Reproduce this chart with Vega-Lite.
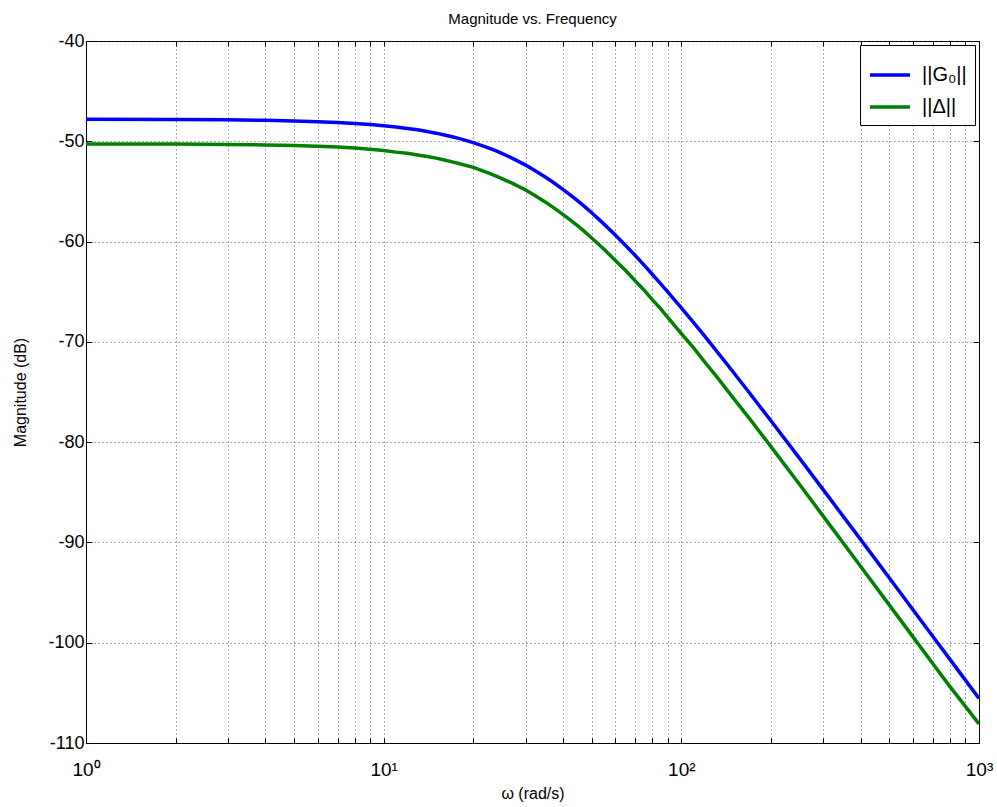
{
  "$schema": "https://vega.github.io/schema/vega-lite/v6.json",
  "autosize": {"type": "none"},
  "padding": {"left": 86, "top": 41, "right": 18, "bottom": 64},
  "width": 893,
  "height": 702,
  "background": "white",
  "config": {
    "font": "Liberation Sans",
    "view": {"stroke": "black", "strokeWidth": 1},
    "axis": {
      "domainColor": "black",
      "tickColor": "black",
      "labelColor": "black",
      "titleColor": "black",
      "labelFont": "Liberation Sans",
      "titleFont": "Liberation Sans",
      "titleFontWeight": "normal",
      "gridColor": "#333",
      "gridDash": [1, 3],
      "gridOpacity": 0.8,
      "gridWidth": 1
    }
  },
  "title": {
    "text": "Magnitude vs. Frequency",
    "fontSize": 15,
    "fontWeight": "normal",
    "font": "Liberation Sans",
    "anchor": "middle",
    "offset": 5,
    "color": "black"
  },
  "datasets": {
    "curves": [
      {"w": 1, "mag": -47.81, "series": "||G₀||"},
      {"w": 2, "mag": -47.83, "series": "||G₀||"},
      {"w": 3, "mag": -47.86, "series": "||G₀||"},
      {"w": 4, "mag": -47.91, "series": "||G₀||"},
      {"w": 5, "mag": -47.97, "series": "||G₀||"},
      {"w": 6, "mag": -48.04, "series": "||G₀||"},
      {"w": 7, "mag": -48.12, "series": "||G₀||"},
      {"w": 8, "mag": -48.22, "series": "||G₀||"},
      {"w": 9, "mag": -48.33, "series": "||G₀||"},
      {"w": 10, "mag": -48.45, "series": "||G₀||"},
      {"w": 11, "mag": -48.58, "series": "||G₀||"},
      {"w": 12, "mag": -48.72, "series": "||G₀||"},
      {"w": 13, "mag": -48.86, "series": "||G₀||"},
      {"w": 14, "mag": -49.02, "series": "||G₀||"},
      {"w": 15, "mag": -49.19, "series": "||G₀||"},
      {"w": 16, "mag": -49.37, "series": "||G₀||"},
      {"w": 17, "mag": -49.55, "series": "||G₀||"},
      {"w": 18, "mag": -49.74, "series": "||G₀||"},
      {"w": 20, "mag": -50.14, "series": "||G₀||"},
      {"w": 22, "mag": -50.56, "series": "||G₀||"},
      {"w": 24, "mag": -50.99, "series": "||G₀||"},
      {"w": 27, "mag": -51.68, "series": "||G₀||"},
      {"w": 30, "mag": -52.38, "series": "||G₀||"},
      {"w": 32, "mag": -52.86, "series": "||G₀||"},
      {"w": 35, "mag": -53.58, "series": "||G₀||"},
      {"w": 37, "mag": -54.06, "series": "||G₀||"},
      {"w": 40, "mag": -54.79, "series": "||G₀||"},
      {"w": 42, "mag": -55.26, "series": "||G₀||"},
      {"w": 45, "mag": -55.97, "series": "||G₀||"},
      {"w": 47, "mag": -56.44, "series": "||G₀||"},
      {"w": 50, "mag": -57.13, "series": "||G₀||"},
      {"w": 55, "mag": -58.26, "series": "||G₀||"},
      {"w": 60, "mag": -59.35, "series": "||G₀||"},
      {"w": 65, "mag": -60.39, "series": "||G₀||"},
      {"w": 70, "mag": -61.39, "series": "||G₀||"},
      {"w": 75, "mag": -62.35, "series": "||G₀||"},
      {"w": 80, "mag": -63.28, "series": "||G₀||"},
      {"w": 85, "mag": -64.16, "series": "||G₀||"},
      {"w": 90, "mag": -65.01, "series": "||G₀||"},
      {"w": 100, "mag": -66.61, "series": "||G₀||"},
      {"w": 110, "mag": -68.09, "series": "||G₀||"},
      {"w": 120, "mag": -69.46, "series": "||G₀||"},
      {"w": 130, "mag": -70.75, "series": "||G₀||"},
      {"w": 150, "mag": -73.08, "series": "||G₀||"},
      {"w": 170, "mag": -75.15, "series": "||G₀||"},
      {"w": 200, "mag": -77.87, "series": "||G₀||"},
      {"w": 250, "mag": -81.64, "series": "||G₀||"},
      {"w": 300, "mag": -84.76, "series": "||G₀||"},
      {"w": 400, "mag": -89.7, "series": "||G₀||"},
      {"w": 500, "mag": -93.55, "series": "||G₀||"},
      {"w": 600, "mag": -96.71, "series": "||G₀||"},
      {"w": 700, "mag": -99.38, "series": "||G₀||"},
      {"w": 800, "mag": -101.69, "series": "||G₀||"},
      {"w": 900, "mag": -103.73, "series": "||G₀||"},
      {"w": 1000, "mag": -105.56, "series": "||G₀||"},
      {"w": 1, "mag": -50.26, "series": "||Δ||"},
      {"w": 2, "mag": -50.28, "series": "||Δ||"},
      {"w": 3, "mag": -50.31, "series": "||Δ||"},
      {"w": 4, "mag": -50.36, "series": "||Δ||"},
      {"w": 5, "mag": -50.42, "series": "||Δ||"},
      {"w": 6, "mag": -50.49, "series": "||Δ||"},
      {"w": 7, "mag": -50.58, "series": "||Δ||"},
      {"w": 8, "mag": -50.68, "series": "||Δ||"},
      {"w": 9, "mag": -50.79, "series": "||Δ||"},
      {"w": 10, "mag": -50.92, "series": "||Δ||"},
      {"w": 11, "mag": -51.08, "series": "||Δ||"},
      {"w": 12, "mag": -51.2, "series": "||Δ||"},
      {"w": 13, "mag": -51.36, "series": "||Δ||"},
      {"w": 14, "mag": -51.52, "series": "||Δ||"},
      {"w": 15, "mag": -51.68, "series": "||Δ||"},
      {"w": 16, "mag": -51.87, "series": "||Δ||"},
      {"w": 17, "mag": -52.05, "series": "||Δ||"},
      {"w": 18, "mag": -52.24, "series": "||Δ||"},
      {"w": 20, "mag": -52.6, "series": "||Δ||"},
      {"w": 22, "mag": -53.06, "series": "||Δ||"},
      {"w": 24, "mag": -53.49, "series": "||Δ||"},
      {"w": 27, "mag": -54.18, "series": "||Δ||"},
      {"w": 30, "mag": -54.85, "series": "||Δ||"},
      {"w": 32, "mag": -55.36, "series": "||Δ||"},
      {"w": 35, "mag": -56.07, "series": "||Δ||"},
      {"w": 37, "mag": -56.56, "series": "||Δ||"},
      {"w": 40, "mag": -57.28, "series": "||Δ||"},
      {"w": 42, "mag": -57.76, "series": "||Δ||"},
      {"w": 45, "mag": -58.47, "series": "||Δ||"},
      {"w": 47, "mag": -58.94, "series": "||Δ||"},
      {"w": 50, "mag": -59.65, "series": "||Δ||"},
      {"w": 55, "mag": -60.76, "series": "||Δ||"},
      {"w": 60, "mag": -61.88, "series": "||Δ||"},
      {"w": 65, "mag": -62.89, "series": "||Δ||"},
      {"w": 70, "mag": -63.92, "series": "||Δ||"},
      {"w": 75, "mag": -64.85, "series": "||Δ||"},
      {"w": 80, "mag": -65.82, "series": "||Δ||"},
      {"w": 85, "mag": -66.66, "series": "||Δ||"},
      {"w": 90, "mag": -67.56, "series": "||Δ||"},
      {"w": 100, "mag": -69.17, "series": "||Δ||"},
      {"w": 110, "mag": -70.6, "series": "||Δ||"},
      {"w": 120, "mag": -72.03, "series": "||Δ||"},
      {"w": 130, "mag": -73.3, "series": "||Δ||"},
      {"w": 150, "mag": -75.66, "series": "||Δ||"},
      {"w": 170, "mag": -77.7, "series": "||Δ||"},
      {"w": 200, "mag": -80.45, "series": "||Δ||"},
      {"w": 250, "mag": -84.25, "series": "||Δ||"},
      {"w": 300, "mag": -87.4, "series": "||Δ||"},
      {"w": 400, "mag": -92.37, "series": "||Δ||"},
      {"w": 500, "mag": -96.25, "series": "||Δ||"},
      {"w": 600, "mag": -99.42, "series": "||Δ||"},
      {"w": 700, "mag": -102.1, "series": "||Δ||"},
      {"w": 800, "mag": -104.4, "series": "||Δ||"},
      {"w": 900, "mag": -106.35, "series": "||Δ||"},
      {"w": 1000, "mag": -108.1, "series": "||Δ||"}
    ]
  },
  "data": {"name": "curves"},
  "layer": [
    {
      "mark": {"type": "line", "strokeWidth": 3.5, "clip": true},
      "encoding": {
        "x": {
          "field": "w",
          "type": "quantitative",
          "scale": {"type": "log", "domain": [1, 1000], "nice": false},
          "axis": {
            "orient": "bottom",
            "title": "ω (rad/s)",
            "titleFontSize": 16,
            "titlePadding": 6,
            "values": [1, 2, 3, 4, 5, 6, 7, 8, 9, 10, 20, 30, 40, 50, 60, 70, 80, 90, 100, 200, 300, 400, 500, 600, 700, 800, 900, 1000],
            "labelExpr": "datum.value == 1 ? '10⁰' : datum.value == 10 ? '10¹' : datum.value == 100 ? '10²' : datum.value == 1000 ? '10³' : ''",
            "labelFontSize": 19,
            "labelFlush": false,
            "labelOverlap": false,
            "labelPadding": 22,
            "tickSize": -5,
            "grid": true
          }
        },
        "y": {
          "field": "mag",
          "type": "quantitative",
          "scale": {"domain": [-110, -40], "nice": false},
          "axis": {
            "orient": "left",
            "title": "Magnitude (dB)",
            "titleFontSize": 16,
            "titlePadding": 19,
            "values": [-110, -100, -90, -80, -70, -60, -50, -40],
            "labelExpr": "toString(datum.value)",
            "labelFontSize": 18,
            "labelPadding": 8,
            "tickSize": -6,
            "grid": true
          }
        },
        "color": {
          "field": "series",
          "type": "nominal",
          "scale": {"domain": ["||G₀||", "||Δ||"], "range": ["#0000FF", "#007F00"]},
          "legend": {
            "title": null,
            "orient": "top-right",
            "offset": 4,
            "symbolType": "stroke",
            "symbolSize": 1600,
            "symbolStrokeWidth": 3.5,
            "labelFontSize": 20,
            "labelFont": "Liberation Sans",
            "labelColor": "black",
            "labelOffset": 10,
            "strokeColor": "black",
            "fillColor": "white",
            "padding": 8,
            "rowPadding": -10,
            "symbolOffset": 0
          }
        }
      }
    },
    {
      "mark": {"type": "line", "opacity": 0},
      "encoding": {
        "x": {
          "field": "w",
          "type": "quantitative",
          "axis": {
            "orient": "top",
            "title": null,
            "labels": false,
            "grid": false,
            "domain": false,
            "values": [1, 2, 3, 4, 5, 6, 7, 8, 9, 10, 20, 30, 40, 50, 60, 70, 80, 90, 100, 200, 300, 400, 500, 600, 700, 800, 900, 1000],
            "tickSize": -5
          }
        },
        "y": {
          "field": "mag",
          "type": "quantitative",
          "axis": {
            "orient": "right",
            "title": null,
            "labels": false,
            "grid": false,
            "domain": false,
            "values": [-110, -100, -90, -80, -70, -60, -50, -40],
            "tickSize": -6
          }
        },
        "detail": {"field": "series"}
      }
    }
  ],
  "resolve": {"axis": {"x": "independent", "y": "independent"}}
}
